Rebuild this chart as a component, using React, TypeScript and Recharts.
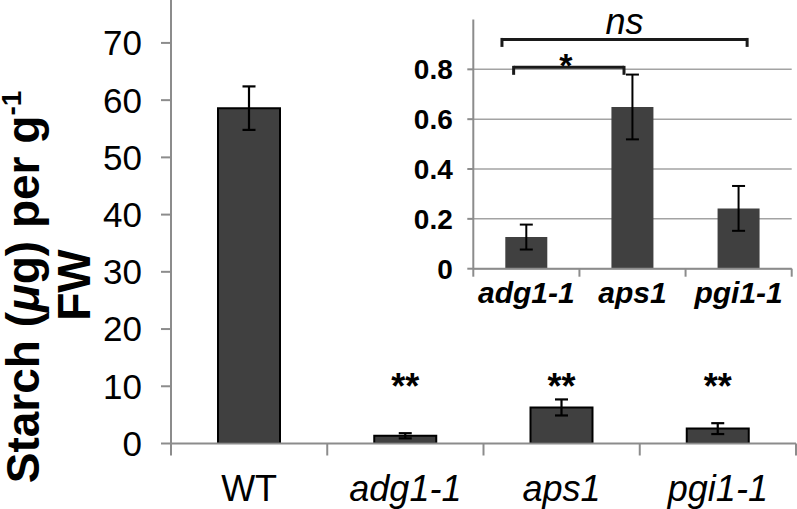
import React from "react";
import {
  BarChart,
  Bar,
  XAxis,
  YAxis,
  ErrorBar,
  CartesianGrid,
  ReferenceDot,
  ReferenceLine,
} from "recharts";

// main chart
const groups = ["WT", "adg1-1", "aps1", "pgi1-1"];
const starch = [58.6, 1.35, 6.3, 2.6];
const starchErr = [3.8, 0.45, 1.4, 0.95];
const signif = ["", "**", "**", "**"];
const mainTicks = [0, 10, 20, 30, 40, 50, 60, 70];

// inset (mutants only)
const insetGroups = ["adg1-1", "aps1", "pgi1-1"];
const insetStarch = [0.127, 0.649, 0.242];
const insetErr = [0.05, 0.13, 0.09];
const insetTicks = [0, 0.2, 0.4, 0.6, 0.8];

// comparison brackets in the inset (x in category units, level in y units)
const brackets = [
  { from: -0.23, to: 2.08, level: 0.92, text: "ns" },
  { from: -0.12, to: 0.92, level: 0.808, text: "*" },
];

const mainData = groups.map((g, i) => ({ name: g, value: starch[i], err: starchErr[i] }));
const insetData = insetGroups.map((g, i) => ({ idx: i, name: g, value: insetStarch[i], err: insetErr[i] }));

const FONT = "'Liberation Sans', Arial, Helvetica, sans-serif";
const AXIS = "#8c8c8c";
const BAR = "#404040";

const MAIN_W = 797;
const MAIN_H = 509;
const MAIN_LEFT = 171;
const MAIN_PLOT_W = 625;
const MAIN_BAND = MAIN_PLOT_W / groups.length;

const INSET_X = 380;
const INSET_W = 417;
const INSET_H = 320;
const INSET_LEFT = 93.3;
const INSET_PLOT_W = 318.4;
const INSET_BAND = INSET_PLOT_W / insetGroups.length;

function MainTick(props: any) {
  const { x, y, payload, index } = props;
  const half = MAIN_BAND / 2;
  const last = index === groups.length - 1;
  return (
    <g>
      <line x1={x - half} y1={y} x2={x - half} y2={y + 12} stroke={AXIS} strokeWidth={2} />
      {last && <line x1={x + half} y1={y} x2={x + half} y2={y + 12} stroke={AXIS} strokeWidth={2} />}
      <text
        x={x}
        y={y + 57}
        textAnchor="middle"
        fontSize={36}
        fontStyle={payload.value === "WT" ? "normal" : "italic"}
        fill="#000"
      >
        {payload.value}
      </text>
    </g>
  );
}

function InsetTick(props: any) {
  const { x, y, payload, index } = props;
  const half = INSET_BAND / 2;
  const last = index === insetGroups.length - 1;
  return (
    <g>
      <line x1={x - half} y1={y} x2={x - half} y2={y + 8} stroke={AXIS} strokeWidth={2} />
      {last && <line x1={x + half} y1={y} x2={x + half} y2={y + 8} stroke={AXIS} strokeWidth={2} />}
      <text
        x={x}
        y={y + 34.5}
        textAnchor="middle"
        fontSize={30}
        fontWeight="bold"
        fontStyle="italic"
        fill="#000"
      >
        {insetGroups[payload.value]}
      </text>
    </g>
  );
}

function YTitle() {
  return (
    <g fontWeight="bold" fontSize={46} fill="#000">
      <text transform="rotate(-90)" x={-287} y={39} textAnchor="middle">
        Starch (<tspan fontStyle="italic">μ</tspan>g) per g
        <tspan fontSize={28} dy={-18}>-1</tspan>
      </text>
      <text transform="rotate(-90)" x={-285} y={90} textAnchor="middle">
        FW
      </text>
    </g>
  );
}

function starLabel(text: string) {
  return (p: any) => {
    const { viewBox } = p;
    const cx = viewBox.x + (viewBox.width || 0) / 2;
    const cy = viewBox.y + (viewBox.height || 0) / 2;
    return (
      <text x={cx} y={cy + 20} textAnchor="middle" fontSize={36} fontWeight="bold" fill="#000">
        {text}
      </text>
    );
  };
}

function bracketLabel(text: string) {
  return (p: any) => {
    const { viewBox } = p;
    const cx = viewBox.x + viewBox.width / 2;
    if (text === "ns") {
      return (
        <text x={cx} y={viewBox.y - 5} textAnchor="middle" fontSize={36} fontStyle="italic" fill="#000">
          {text}
        </text>
      );
    }
    return (
      <text x={cx - 3} y={viewBox.y + 10} textAnchor="middle" fontSize={34} fontWeight="bold" fill="#000">
        {text}
      </text>
    );
  };
}

export default function App() {
  return (
    <div
      style={{
        position: "absolute",
        left: 0,
        top: 0,
        width: MAIN_W,
        height: MAIN_H,
        background: "#fff",
        fontFamily: FONT,
      }}
    >
      <BarChart
        width={MAIN_W}
        height={MAIN_H}
        data={mainData}
        margin={{ top: 0, right: MAIN_W - MAIN_LEFT - MAIN_PLOT_W, left: 0, bottom: 0 }}
      >
        <XAxis
          dataKey="name"
          height={65.5}
          axisLine={{ stroke: AXIS, strokeWidth: 2 }}
          tickLine={false}
          tickSize={0}
          tickMargin={0}
          interval={0}
          tick={<MainTick />}
        />
        <YAxis
          width={MAIN_LEFT}
          domain={[0, 77.5]}
          ticks={mainTicks}
          interval={0}
          allowDataOverflow
          axisLine={{ stroke: AXIS, strokeWidth: 2 }}
          tickLine={{ stroke: AXIS, strokeWidth: 2 }}
          tickSize={10}
          tickMargin={19}
          tick={{ fontSize: 35, fill: "#000" }}
          label={() => <YTitle />}
        />
        <Bar dataKey="value" fill={BAR} stroke="#000" strokeWidth={2} barSize={62} isAnimationActive={false}>
          <ErrorBar dataKey="err" width={6.5} stroke="#000" strokeWidth={2.2} direction="y" isAnimationActive={false} />
        </Bar>
        {groups.map((g, i) =>
          signif[i] ? (
            <ReferenceDot
              key={g}
              x={g}
              y={11.3}
              r={0}
              fill="none"
              stroke="none"
              ifOverflow="visible"
              label={starLabel(signif[i])}
            />
          ) : null
        )}
      </BarChart>

      <div style={{ position: "absolute", left: INSET_X, top: 0 }}>
        <BarChart
          width={INSET_W}
          height={INSET_H}
          data={insetData}
          margin={{ top: 19.5, right: INSET_W - INSET_LEFT - INSET_PLOT_W, left: 0, bottom: 0 }}
        >
          <CartesianGrid vertical={false} stroke="#a3a3a3" strokeWidth={1.5} horizontalValues={insetTicks} />
          <XAxis
            dataKey="idx"
            type="number"
            domain={[-0.5, insetGroups.length - 0.5]}
            ticks={insetGroups.map((_, i) => i)}
            allowDataOverflow
            height={INSET_H - 19.5 - 249.2}
            axisLine={{ stroke: AXIS, strokeWidth: 2 }}
            tickLine={false}
            tickSize={0}
            tickMargin={0}
            interval={0}
            tick={<InsetTick />}
          />
          <YAxis
            width={INSET_LEFT}
            domain={[0, 1]}
            ticks={insetTicks}
            interval={0}
            allowDataOverflow
            axisLine={{ stroke: AXIS, strokeWidth: 2 }}
            tickLine={{ stroke: AXIS, strokeWidth: 2 }}
            tickSize={6}
            tickMargin={14.5}
            tick={{ fontSize: 28, fontWeight: "bold", fill: "#000" }}
          />
          <Bar dataKey="value" fill={BAR} barSize={42} isAnimationActive={false}>
            <ErrorBar dataKey="err" width={6.5} stroke="#000" strokeWidth={2} direction="y" isAnimationActive={false} />
          </Bar>
          {brackets.map((b) => [
            <ReferenceLine
              key={b.text + "h"}
              segment={[
                { x: b.from, y: b.level },
                { x: b.to, y: b.level },
              ]}
              stroke="#1a1a1a"
              strokeWidth={3}
              ifOverflow="visible"
              label={bracketLabel(b.text)}
            />,
            <ReferenceLine
              key={b.text + "l"}
              segment={[
                { x: b.from, y: b.level + 0.006 },
                { x: b.from, y: b.level - 0.03 },
              ]}
              stroke="#1a1a1a"
              strokeWidth={3}
              ifOverflow="visible"
            />,
            <ReferenceLine
              key={b.text + "r"}
              segment={[
                { x: b.to, y: b.level + 0.006 },
                { x: b.to, y: b.level - 0.03 },
              ]}
              stroke="#1a1a1a"
              strokeWidth={3}
              ifOverflow="visible"
            />,
          ])}
        </BarChart>
      </div>
    </div>
  );
}
